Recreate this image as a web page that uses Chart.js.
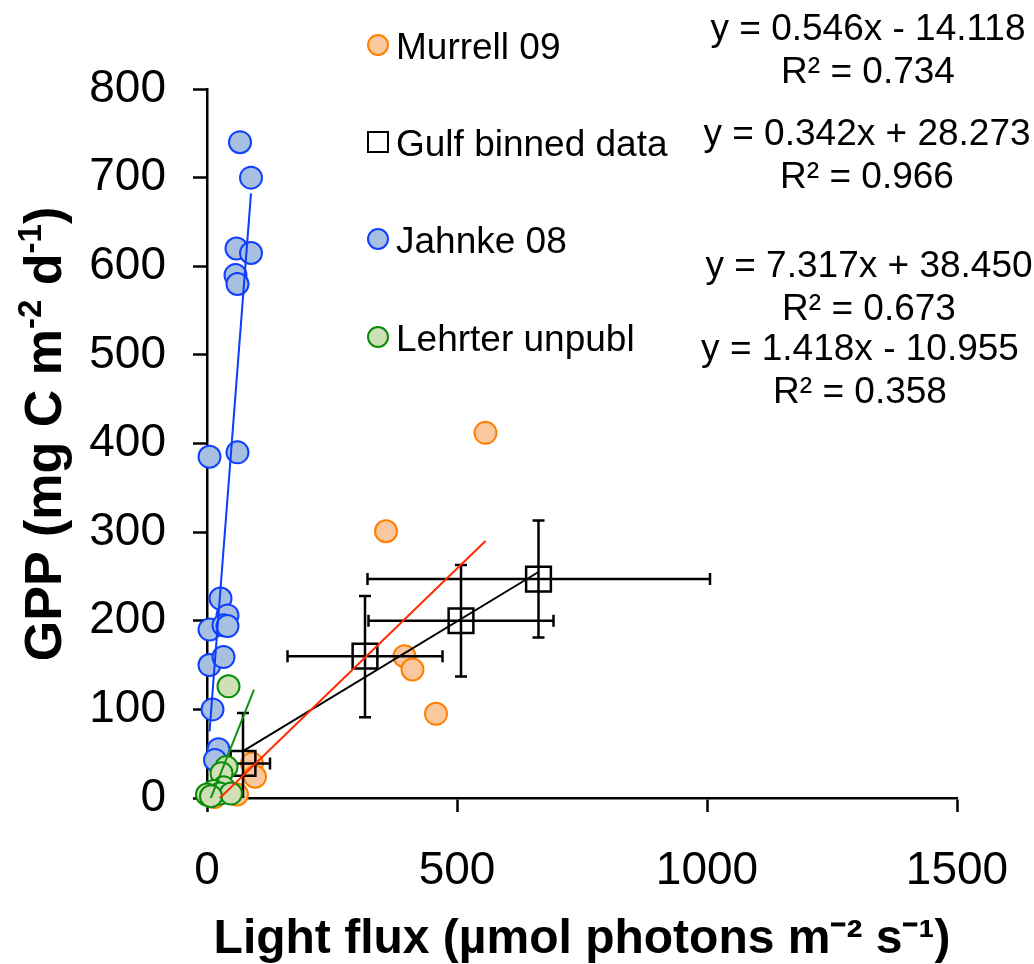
<!DOCTYPE html>
<html>
<head>
<meta charset="utf-8">
<script src="https://cdn.jsdelivr.net/npm/chart.js@4/dist/chart.umd.min.js"></script>
<style>
  body { margin: 0; background: #fff; }
</style>
</head>
<body>
<canvas id="chart" width="1034" height="964"></canvas>
<script>
const murrellX = [557, 358, 395, 411, 458, 90, 96, 60, 15];
const murrellY = [412, 301, 160, 145, 95, 39, 24, 4, 1];

const gulfX = [72, 316, 508, 663];
const gulfY = [39, 160, 200, 247];
const gulfXLow = [18, 161, 323, 321];
const gulfXHigh = [126, 471, 693, 1006];
const gulfYLow = [-18, 91, 137, 181];
const gulfYHigh = [96, 228, 263, 313];

const jahnkeX = [66, 88, 59, 88, 57, 61, 5, 61, 27, 41, 5, 33, 41, 5, 33, 11, 23, 16];
const jahnkeY = [740, 700, 620, 615, 590, 580, 385, 390, 225, 206, 190, 195, 194, 150, 159, 100, 55, 43];

const lehrterX = [43, 39, 29, 33, 13, 0, 26, 48, 8];
const lehrterY = [126, 35, 28, 12, 8, 4, 5, 5, 2];

// trend line end points
const murrellFitX = [15, 557];
const murrellFitY = [-5.9, 290.0];
const gulfFitX = [72, 663];
const gulfFitY = [52.9, 255.0];
const jahnkeFitX = [5, 88];
const jahnkeFitY = [75.0, 682.3];
const lehrterFitX = [0, 94];
const lehrterFitY = [-11.0, 122.3];

const seriesNames = ['Murrell 09', 'Gulf binned data', 'Jahnke 08', 'Lehrter unpubl'];
const fitLabels = [
  ['y = 0.546x - 14.118', 'R² = 0.734'],
  ['y = 0.342x + 28.273', 'R² = 0.966'],
  ['y = 7.317x + 38.450', 'R² = 0.673'],
  ['y = 1.418x - 10.955', 'R² = 0.358']
];

const xTicks = [0, 500, 1000, 1500];
const yTicks = [0, 100, 200, 300, 400, 500, 600, 700, 800];
const xTitle = 'Light flux (µmol photons m⁻² s⁻¹)';
// [text, isSuperscript]
const yTitleParts = [['GPP (mg C m', false], ['-2', true], [' d', false], ['-1', true], [')', false]];

const FONT = "'Liberation Sans', Arial, sans-serif";
Chart.defaults.font.family = FONT;
Chart.defaults.color = '#000';

const colors = {
  murrell: { fill: '#f9c89e', line: '#ff8000' },
  gulf: { fill: 'rgba(0,0,0,0)', line: '#000' },
  jahnke: { fill: '#a7bfe0', line: '#1040ff' },
  lehrter: { fill: '#cfe0b6', line: '#0a8c0a' }
};

const toPoints = (xs, ys) => xs.map((x, i) => ({ x, y: ys[i] }));

const scatterSet = (label, xs, ys, c, order) => ({
  label,
  data: toPoints(xs, ys),
  backgroundColor: c.fill,
  borderColor: c.line,
  borderWidth: 2,
  pointRadius: 11,
  pointStyle: 'circle',
  showLine: false,
  clip: false,
  order
});

const fitSet = (xs, ys, color) => ({
  label: 'fit',
  data: toPoints(xs, ys),
  borderColor: color,
  borderWidth: 2,
  pointRadius: 0,
  showLine: true,
  fill: false,
  clip: 0,
  order: 0
});

const GULF = 1;

const errorBars = {
  id: 'errorBars',
  afterDatasetDraw(chart, args) {
    if (args.index !== GULF) return;
    const { ctx, chartArea, scales: { x, y } } = chart;
    const cap = 6;
    ctx.save();
    ctx.beginPath();
    ctx.rect(chartArea.left, chartArea.top, chartArea.width, chartArea.height);
    ctx.clip();
    ctx.strokeStyle = '#000';
    ctx.lineWidth = 2.5;
    gulfX.forEach((gx, i) => {
      const px = x.getPixelForValue(gx);
      const py = y.getPixelForValue(gulfY[i]);
      const x0 = x.getPixelForValue(gulfXLow[i]);
      const x1 = x.getPixelForValue(gulfXHigh[i]);
      const y0 = y.getPixelForValue(gulfYLow[i]);
      const y1 = y.getPixelForValue(gulfYHigh[i]);
      ctx.beginPath();
      ctx.moveTo(x0, py); ctx.lineTo(x1, py);
      ctx.moveTo(x0, py - cap); ctx.lineTo(x0, py + cap);
      ctx.moveTo(x1, py - cap); ctx.lineTo(x1, py + cap);
      ctx.moveTo(px, y0); ctx.lineTo(px, y1);
      ctx.moveTo(px - cap, y0); ctx.lineTo(px + cap, y0);
      ctx.moveTo(px - cap, y1); ctx.lineTo(px + cap, y1);
      ctx.stroke();
    });
    ctx.restore();
  }
};

const sideText = {
  id: 'sideText',
  afterDraw(chart) {
    const { ctx } = chart;
    ctx.save();
    ctx.font = '37px ' + FONT;
    ctx.fillStyle = '#000';
    ctx.textBaseline = 'alphabetic';

    // legend
    const legendY = [45, 142, 239, 337];
    const legendColors = [colors.murrell, colors.gulf, colors.jahnke, colors.lehrter];
    seriesNames.forEach((name, i) => {
      const c = legendColors[i];
      ctx.lineWidth = 2;
      ctx.strokeStyle = c.line;
      ctx.beginPath();
      if (i === GULF) {
        ctx.fillStyle = '#fff';
        ctx.rect(368, legendY[i] - 10, 20, 20);
      } else {
        ctx.fillStyle = c.fill;
        ctx.arc(378, legendY[i], 10, 0, Math.PI * 2);
      }
      ctx.fill();
      ctx.stroke();
      ctx.fillStyle = '#000';
      ctx.textAlign = 'left';
      ctx.fillText(name, 396, legendY[i] + 14);
    });

    // trend line equations
    const eqX = [868, 867, 869, 860];
    const eqY = [40, 145, 277, 360];
    ctx.textAlign = 'center';
    fitLabels.forEach((lines, i) => {
      ctx.fillText(lines[0], eqX[i], eqY[i]);
      ctx.fillText(lines[1], eqX[i], eqY[i] + 43);
    });

    // y axis title with raised exponents
    const big = 'bold 52px ' + FONT;
    const small = 'bold 33px ' + FONT;
    const widths = yTitleParts.map(([t, sup]) => {
      ctx.font = sup ? small : big;
      return ctx.measureText(t).width;
    });
    const total = widths.reduce((a, b) => a + b, 0);
    ctx.translate(43, 434);
    ctx.rotate(-Math.PI / 2);
    ctx.textAlign = 'left';
    let pos = -total / 2;
    yTitleParts.forEach(([t, sup], i) => {
      ctx.font = sup ? small : big;
      ctx.fillText(t, pos, sup ? -2 : 18);
      pos += widths[i];
    });
    ctx.restore();
  }
};

new Chart(document.getElementById('chart'), {
  type: 'scatter',
  data: {
    datasets: [
      scatterSet(seriesNames[0], murrellX, murrellY, colors.murrell, 4),
      {
        label: seriesNames[1],
        data: toPoints(gulfX, gulfY),
        backgroundColor: 'rgba(0,0,0,0)',
        borderColor: '#000',
        borderWidth: 2.5,
        pointRadius: 17.5,
        pointStyle: 'rect',
        showLine: false,
        clip: false,
        order: 3
      },
      scatterSet(seriesNames[2], jahnkeX, jahnkeY, colors.jahnke, 2),
      scatterSet(seriesNames[3], lehrterX, lehrterY, colors.lehrter, 1),
      fitSet(murrellFitX, murrellFitY, '#ff2a00'),
      fitSet(gulfFitX, gulfFitY, '#000'),
      fitSet(jahnkeFitX, jahnkeFitY, '#0a3cff'),
      fitSet(lehrterFitX, lehrterFitY, '#109010')
    ]
  },
  options: {
    responsive: false,
    animation: false,
    layout: { padding: { left: 0, top: 89, right: 77, bottom: 0 } },
    plugins: {
      legend: { display: false },
      tooltip: { enabled: false }
    },
    scales: {
      x: {
        type: 'linear',
        min: 0,
        max: 1500,
        afterBuildTicks: s => { s.ticks = xTicks.map(v => ({ value: v })); },
        afterFit: s => {
          s.height = 166;
          s.paddingLeft = 0;
          s.paddingRight = 0;
        },
        ticks: { font: { size: 46 }, padding: 32, maxRotation: 0, color: '#000', callback: v => String(v) },
        grid: { drawOnChartArea: false, tickLength: 14, tickColor: '#000', tickWidth: 2.5 },
        border: { color: '#000', width: 2.5 },
        title: {
          display: true,
          text: xTitle,
          font: { size: 48, weight: 'bold', lineHeight: 1 },
          color: '#000',
          padding: { top: 0, bottom: 0 }
        }
      },
      y: {
        type: 'linear',
        min: 0,
        max: 800,
        afterBuildTicks: s => { s.ticks = yTicks.map(v => ({ value: v })); },
        afterFit: s => { s.width = 207; },
        ticks: { font: { size: 46 }, padding: 27, color: '#000', callback: v => String(v) },
        grid: { drawOnChartArea: false, tickLength: 14, tickColor: '#000', tickWidth: 2.5 },
        border: { color: '#000', width: 2.5 },
        title: { display: false }
      }
    }
  },
  plugins: [errorBars, sideText]
});
</script>
</body>
</html>
